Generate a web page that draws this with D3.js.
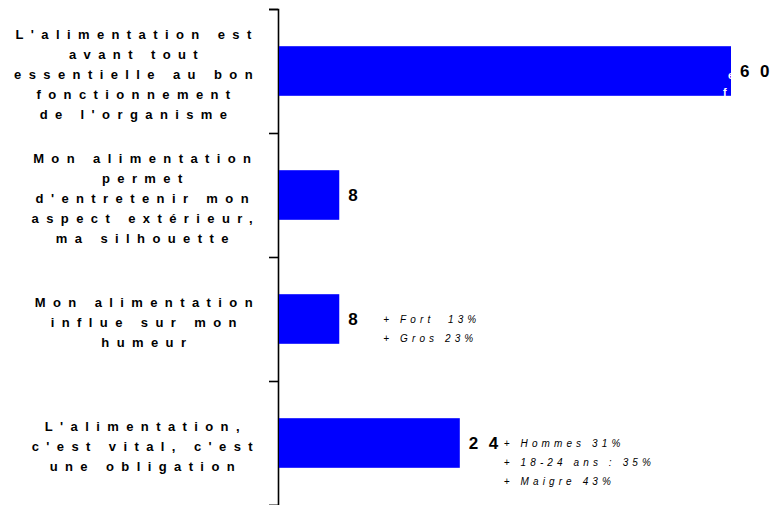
<!DOCTYPE html>
<html>
<head>
<meta charset="utf-8">
<script src="https://cdn.jsdelivr.net/npm/d3@7"></script>
<style>
  body { margin: 0; background: #fff; }
  svg text { font-family: "Liberation Sans", Arial, sans-serif; }
</style>
</head>
<body>
<div id="chart-area"></div>
<script>

// Data
var labelLines = [
    ["L'alimentation est", "avant tout", "essentielle au bon", "fonctionnement", "de l'organisme"],
    ["Mon alimentation", "permet", "d'entretenir mon", "aspect extérieur,", "ma silhouette"],
    ["Mon alimentation", "influe sur mon", "humeur"],
    ["L'alimentation,", "c'est vital, c'est", "une obligation"]
];
var values = [60, 8, 8, 24];
var valueLabels = ["60", "8", "8", "24"];
var notes = [
    [],
    [],
    ["+ Fort  13%", "+ Gros 23%"],
    ["+ Hommes 31%", "+ 18-24 ans : 35%", "+ Maigre 43%"]
];
// stray white glyphs that show at the end of the first bar
var hiddenNotes = ["e", "f"];

// Set up SVG
var width = 771,
    height = 505;

var svg = d3.select("#chart-area").append("svg")
    .attr("width", width)
    .attr("height", height);

var x = d3.scaleLinear()
    .domain([0, 60])
    .range([279, 731]);

var y = d3.scaleBand()
    .domain(d3.range(values.length))
    .range([9, 505])
    .paddingInner(0.6)
    .paddingOuter(0.3);

// ticks sit on the band boundaries
var yEdges = d3.scaleLinear()
    .domain([0, values.length])
    .range([9, 505]);

var axis = d3.axisLeft(yEdges)
    .ticks(values.length)
    .tickFormat("")
    .tickSizeInner(9)
    .tickSizeOuter(9);

svg.append("g")
    .attr("transform", "translate(278,0)")
    .call(axis)
    .call(function(g) {
        g.selectAll("path, line").attr("stroke", "#000").attr("stroke-width", 1.6);
    });

// Bars
svg.selectAll(".bar")
    .data(values)
    .enter()
    .append("rect")
    .attr("class", "bar")
    .attr("x", x(0))
    .attr("y", function(d, i) { return y(i); })
    .attr("width", function(d) { return x(d) - x(0); })
    .attr("height", y.bandwidth())
    .attr("fill", "#0000ff");

// white glyphs inside bar 1
svg.selectAll(".hidden-note")
    .data(hiddenNotes)
    .enter()
    .append("text")
    .attr("class", "hidden-note")
    .attr("x", function(d, j) { return x(values[0]) - 3 - j * 5; })
    .attr("y", function(d, j) { return y(0) + y.bandwidth() / 2 + 4 + j * 17; })
    .attr("dy", "0.35em")
    .attr("fill", "#fff")
    .style("font-size", "11px")
    .style("font-weight", "bold")
    .text(function(d) { return d; });

// Value labels, one tspan per digit so there is no trailing spacing
svg.selectAll(".value")
    .data(values)
    .enter()
    .append("text")
    .attr("class", "value")
    .attr("x", function(d) { return x(d) + 9; })
    .attr("y", function(d, i) { return y(i) + y.bandwidth() / 2; })
    .attr("dy", "0.35em")
    .style("font-size", "17px")
    .style("font-weight", "bold")
    .selectAll("tspan")
    .data(function(d, i) { return valueLabels[i].split(""); })
    .enter()
    .append("tspan")
    .attr("dx", function(c, k) { return k ? 10.5 : 0; })
    .text(function(c) { return c; });

// Category labels, lines centred inside a block right-aligned near the axis
var labelRight = 256;
var lineH = 20;

labelLines.forEach(function(lines, i) {
    var cy = y(i) + y.bandwidth() / 2 + 3;
    var g = svg.append("g").attr("class", "cat-label");
    var t = g.selectAll("text")
        .data(lines)
        .enter()
        .append("text")
        .attr("y", function(d, j) { return cy + (j - (lines.length - 1) / 2) * lineH; })
        .attr("dy", "0.35em")
        .attr("text-anchor", "middle")
        .style("font-size", "13px")
        .style("font-weight", "bold")
        .style("letter-spacing", "7.4px")
        .text(function(d) { return d; });

    var maxW = d3.max(t.nodes(), function(n) { return n.getComputedTextLength(); });
    t.attr("x", labelRight - maxW / 2 + 4);
});

// Side notes
notes.forEach(function(lines, i) {
    if (!lines.length) return;
    var y0 = y(i) + y.bandwidth() / 2;
    svg.append("g").selectAll("text")
        .data(lines)
        .enter()
        .append("text")
        .attr("x", x(values[i]) + 44)
        .attr("y", function(d, j) { return y0 + j * 19; })
        .attr("dy", "0.35em")
        .style("font-size", "10px")
        .style("font-style", "italic")
        .style("letter-spacing", "4.1px")
        .style("white-space", "pre")
        .text(function(d) { return d; });
});

</script>
</body>
</html>
